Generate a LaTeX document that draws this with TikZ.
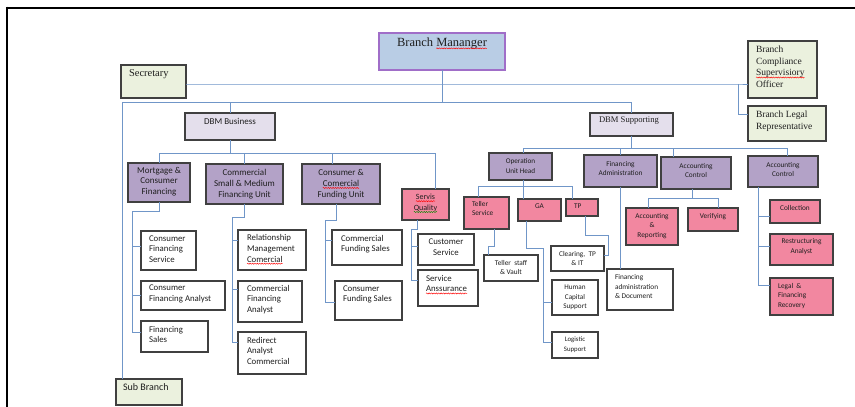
\documentclass[tikz,border=0pt]{standalone}
\usepackage{fontspec}
\setmainfont{Liberation Serif}
\setsansfont{Carlito}
\usetikzlibrary{decorations.pathmorphing}
\definecolor{lineblue}{RGB}{112,150,200}
\definecolor{boxgray}{RGB}{64,64,64}
\definecolor{boxgreen}{RGB}{235,241,222}
\definecolor{boxlav}{RGB}{228,223,236}
\definecolor{boxpurple}{RGB}{179,162,199}
\definecolor{boxpink}{RGB}{242,135,160}
\definecolor{bmfill}{RGB}{185,205,229}
\definecolor{bmdraw}{RGB}{160,110,200}
\newcommand\FS[2]{\fontsize{#1}{#2}\selectfont}
\newcommand\LeftT[1]{\raggedright\leftskip=#1pt\relax}
\newcommand\sq[2][red]{\tikz[baseline=(w.base),x=1pt,y=1pt]{\node[inner sep=0pt,outer sep=0pt,minimum width=0pt,minimum height=0pt,anchor=base,draw=none,fill=none](w){#2};\draw[overlay,#1,line width=0.45pt,decorate,decoration={snake,amplitude=0.55pt,segment length=2.4pt}]([yshift=-1.7pt]w.base west)--([yshift=-1.7pt]w.base east);}}
\newcommand\obox[9]{%
 \node[#6, minimum width=#4pt-#2pt, minimum height=#5pt-#3pt] (#1) at ({(#2+#4)/2},{(#3+#5)/2})
 {\parbox[c][\dimexpr#5pt-#3pt-1pt\relax][t]{\dimexpr#4pt-#2pt-4pt\relax}{\vspace*{#7pt}#8#9}};}
\tikzset{
 basebox/.style={draw=boxgray, line width=1.1pt, inner sep=0pt, outer sep=0pt, text=black!88},
 gbox/.style={basebox, fill=boxgreen},
 lbox/.style={basebox, fill=boxlav},
 pbox/.style={basebox, fill=boxpurple, font=\sffamily},
 kbox/.style={basebox, fill=boxpink, font=\sffamily},
 wbox/.style={basebox, fill=white, font=\sffamily},
 bmbox/.style={basebox, draw=bmdraw, fill=bmfill},
 conn/.style={draw=lineblue, line width=0.9pt},
 frame/.style={draw=black, line width=2pt}
}
\begin{document}
\begin{tikzpicture}[x=1pt,y=-1pt]
\useasboundingbox (0,0) rectangle (855,407);
\fill[white] (0,0) rectangle (855,407);
\draw[frame] (6.7,7.6) -- (855,7.6);
\draw[frame] (6.7,6.6) -- (6.7,407);

% top level
\obox{bm}{379}{33}{505}{70}{bmbox}{4.5}{\FS{12.5}{14}\centering}{Branch \sq{Mananger}}
\obox{sec}{121}{65}{186}{98}{gbox}{4.5}{\FS{10.5}{12}\LeftT{6}}{Secretary}
\obox{comp}{748}{41}{817}{98}{gbox}{4.3}{\FS{9.5}{11.7}\LeftT{6}}{Branch\\Compliance\\\sq{Supervisiory}\\Officer}
\obox{legal}{748}{106}{826}{141}{gbox}{4.5}{\FS{9.5}{12}\LeftT{6}}{Branch Legal\\Representative}
\obox{dbmb}{185}{113}{275}{140}{lbox,font=\sffamily}{4.5}{\FS{9}{11}\centering}{DBM Business}
\obox{dbms}{590}{113}{673}{136}{lbox}{3.3}{\FS{8.6}{10}\LeftT{7}}{DBM Supporting}
\obox{sub}{116}{379}{182}{405}{gbox,font=\sffamily}{4.2}{\FS{10}{12}\LeftT{5}}{Sub Branch}

% business units
\obox{mort}{128}{163}{190}{202}{pbox}{3.5}{\FS{9}{10.8}\centering}{Mortgage \&\\Consumer\\Financing}
\obox{comsm}{206}{164}{283}{204}{pbox}{4.8}{\FS{9}{10.8}\centering}{Commercial\\Small \& Medium\\Financing Unit}
\obox{ccf}{302}{164}{380}{204}{pbox}{4.8}{\FS{9}{10.8}\centering}{Consumer \&\\\sq{Comercial}\\Funding Unit}
\obox{sq}{402}{189}{449}{220}{kbox}{4.5}{\FS{8}{10.8}\centering}{\sq{Servis}\\\sq[green!55!black]{Quality}}

\obox{cfs}{141}{231}{196}{270}{wbox}{4}{\FS{8.8}{10.7}\LeftT{6}}{Consumer\\Financing\\Service}
\obox{cfa}{141}{281}{225}{310}{wbox}{3.5}{\FS{8.8}{10.7}\LeftT{6}}{Consumer\\Financing Analyst}
\obox{fs}{141}{321}{208}{352}{wbox}{4.5}{\FS{8.8}{10.7}\LeftT{6}}{Financing\\Sales}
\obox{rma}{238}{230}{306}{270}{wbox}{4}{\FS{8.8}{10.7}\LeftT{7}}{Relationship\\Management\\\sq{Comercial}}
\obox{cfa2}{238}{281}{302}{322}{wbox}{3.5}{\FS{8.8}{10.7}\LeftT{7}}{Commercial\\Financing\\Analyst}
\obox{rac}{238}{332}{306}{374}{wbox}{4.5}{\FS{8.8}{10.7}\LeftT{7}}{Redirect\\Analyst\\Commercial}
\obox{cfs2}{332}{230}{402}{265}{wbox}{4.5}{\FS{8.8}{10.7}\LeftT{7}}{Commercial\\Funding Sales}
\obox{cons}{335}{281}{402}{320}{wbox}{4}{\FS{8.8}{10.7}\LeftT{6}}{Consumer\\Funding Sales}
\obox{cs}{418}{234}{474}{265}{wbox}{4.5}{\FS{8.8}{10.7}\centering}{Customer\\Service}
\obox{sa}{418}{270}{478}{306}{wbox}{4.5}{\FS{8.8}{10.7}\LeftT{6}}{Service\\\sq{Anssurance}}

% supporting units
\obox{ouh}{489}{153}{552}{180}{pbox}{5.5}{\FS{7.2}{9.3}\centering}{Operation\\Unit Head}
\obox{fa}{584}{155}{657}{187}{pbox}{5.5}{\FS{7.3}{9.3}\centering}{Financing\\Administration}
\obox{ac1}{661}{157}{731}{189}{pbox}{5.5}{\FS{7.3}{9.3}\centering}{Accounting\\Control}
\obox{ac2}{748}{156}{818}{187}{pbox}{5.5}{\FS{7.3}{9.3}\centering}{Accounting\\Control}

\obox{ts}{464}{197}{509}{229}{kbox}{3.5}{\FS{7.3}{9.7}\LeftT{6}}{Teller\\Service}
\obox{ga}{518}{199}{561}{221}{kbox}{4.5}{\FS{7.3}{9.5}\centering}{GA}
\obox{tp}{566}{199}{598}{216}{kbox}{4.5}{\FS{7.3}{9.5}\LeftT{6}}{TP}
\obox{ar}{626}{208}{678}{245}{kbox}{4.5}{\FS{7.3}{9.5}\centering}{Accounting\\\&\\Reporting}
\obox{ver}{688}{208}{738}{231}{kbox}{4.5}{\FS{7.3}{9.5}\centering}{Verifying}
\obox{coll}{770}{200}{820}{223}{kbox}{4.5}{\FS{7.3}{9.5}\centering}{Collection}
\obox{ra}{770}{234}{833}{265}{kbox}{4}{\FS{7.3}{9.5}\centering}{Restructuring\\Analyst}
\obox{lfr}{770}{278}{833}{315}{kbox}{4.5}{\FS{7.3}{9.5}\LeftT{6}}{Legal~~\&\\Financing\\Recovery}

\obox{tsv}{484}{255}{538}{281}{wbox}{4.5}{\FS{7.3}{9.7}\centering}{Teller~~staff\\\& Vault}
\obox{clr}{551}{246}{604}{271}{wbox}{4.5}{\FS{7.3}{9.7}\centering}{Clearing,~~TP\\\& IT}
\obox{hcs}{552}{280}{598}{315}{wbox}{4.5}{\FS{7.2}{9.5}\centering}{Human\\Capital\\Support}
\obox{ls}{552}{332}{598}{358}{wbox}{4.5}{\FS{6.8}{9.3}\centering}{Logistic\\Support}
\obox{fad}{607}{269}{673}{310}{wbox}{5}{\FS{7.3}{9.5}\LeftT{6}}{Financing\\administration\\\& Document}

% bus coordinates
\coordinate (j1) at (738,84);
\coordinate (j2) at (443,102);
\coordinate (subx) at (122,102);
\coordinate (j3) at (229,153);
\coordinate (m1) at (132,211);
\coordinate (c1) at (232,217);
\coordinate (f1) at (325,220);
\coordinate (s1) at (411,229);
\coordinate (j4) at (631,148);
\coordinate (o1) at (523,186);
\coordinate (t1) at (488,246);
\coordinate (g1) at (543,248);
\coordinate (p1) at (608,235);
\coordinate (a1) at (692,198);

% top connectors
\draw[conn] ([yshift=-2.5pt]sec.east) -- (j1) -- (j1 -| comp.west);
\draw[conn] (j1) |- ([yshift=9.5pt]legal.west);
\draw[conn] (bm.south) |- (j2);
\draw[conn] (sub.north -| subx) -- (subx) -| (dbms.north);
\draw[conn] (dbmb.north) -- (dbmb.north |- j2);

% business
\coordinate (sqtop) at ([xshift=10pt]sq.north);
\coordinate (ccftop) at ([xshift=-9pt]ccf.north);
\draw[conn] (dbmb.south) |- (j3);
\draw[conn] (mort.north) |- (sqtop |- j3) -- (sqtop);
\draw[conn] (comsm.north) -- (comsm.north |- j3);
\draw[conn] (ccftop) -- (ccftop |- j3);

\draw[conn] (mort.south) |- (m1) |- ([yshift=-11pt]fs.north west);
\draw[conn] (m1) |- ([yshift=-15pt]cfs.north west);
\draw[conn] (m1) |- ([yshift=-14pt]cfa.north west);

\draw[conn] (comsm.south) |- (c1) |- ([yshift=-10pt]rac.north west);
\draw[conn] (c1) |- ([yshift=-10pt]rma.north west);
\draw[conn] (c1) |- ([yshift=-8pt]cfa2.north west);

\draw[conn] ([xshift=-5pt]ccf.south) |- (f1) |- ([yshift=-21pt]cons.north west);
\draw[conn] (f1) |- ([yshift=-10pt]cfs2.north west);

\draw[conn] ([xshift=-8.5pt]sq.south) |- (s1) |- ([yshift=-10pt]sa.north west);
\draw[conn] (s1) |- ([yshift=-12pt]cs.north west);

% supporting
\coordinate (ac2top) at ([xshift=4pt]ac2.north);
\coordinate (ac1top) at ([xshift=-23pt]ac1.north);
\draw[conn] (dbms.south) |- (j4);
\draw[conn] ([xshift=2.5pt]ouh.north) |- (ac2top |- j4) -- (ac2top);
\draw[conn] (fa.north) -- (fa.north |- j4);
\draw[conn] (ac1top) -- (ac1top |- j4);

\coordinate (tstop) at ([xshift=-8.5pt]ts.north);
\coordinate (tptop) at ([xshift=-10pt]tp.north);
\coordinate (gatop) at ([xshift=-16.5pt]ga.north);
\draw[conn] ([xshift=2.5pt]ouh.south) |- (o1);
\draw[conn] (tstop) |- (tptop |- o1) -- (tptop);
\draw[conn] (gatop) -- (gatop |- o1);

\draw[conn] ([xshift=7.5pt]ts.south) |- (t1) -- (t1 |- tsv.north);
\draw[conn] ([xshift=-13.5pt]ga.south) |- (g1) |- ([yshift=-10pt]ls.north west);
\draw[conn] (g1) |- ([yshift=-22pt]hcs.north west);
\draw[conn] ([xshift=3pt]tp.south) |- (p1) |- ([yshift=3.5pt]clr.east);
\draw[conn] (fa.south) -- (fa.south |- fad.north);

\coordinate (artop) at ([xshift=-4pt]ar.north);
\coordinate (vertop) at ([xshift=5pt]ver.north);
\draw[conn] ([xshift=-4pt]ac1.south) |- (a1);
\draw[conn] (artop) |- (vertop |- a1) -- (vertop);

\coordinate (k1) at ([xshift=-25pt]ac2.south);
\draw[conn] (k1) |- ([yshift=-7pt]lfr.north west);
\draw[conn] (k1) |- ([yshift=-16.5pt]coll.north west);
\draw[conn] (k1) |- ([yshift=-12pt]ra.north west);
\end{tikzpicture}
\end{document}
